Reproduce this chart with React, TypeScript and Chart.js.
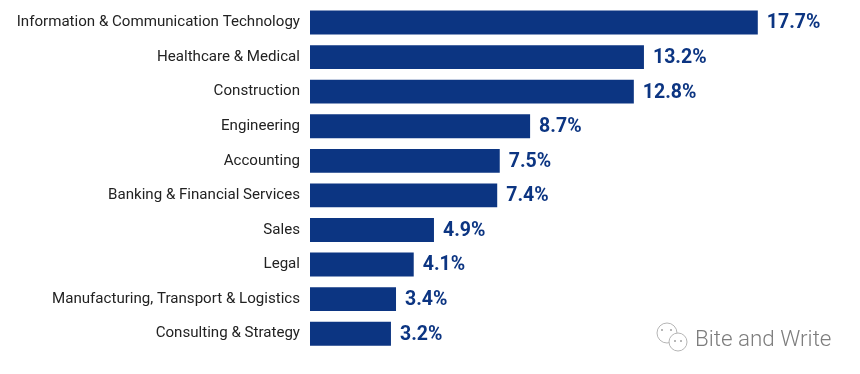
import React, { useEffect, useRef } from "react";
import { Chart, registerables } from "chart.js";

Chart.register(...registerables);

const categories = [
  "Information & Communication Technology",
  "Healthcare & Medical",
  "Construction",
  "Engineering",
  "Accounting",
  "Banking & Financial Services",
  "Sales",
  "Legal",
  "Manufacturing, Transport & Logistics",
  "Consulting & Strategy",
];
const values = [17.7, 13.2, 12.8, 8.7, 7.5, 7.4, 4.9, 4.1, 3.4, 3.2];
const BLUE = "#0c3582";

const valueLabels = {
  id: "valueLabels",
  afterDatasetsDraw(chart: any) {
    const { ctx } = chart;
    const meta = chart.getDatasetMeta(0);
    ctx.save();
    ctx.font = "bold 19.5px Roboto";
    ctx.fillStyle = BLUE;
    ctx.textBaseline = "middle";
    ctx.textAlign = "left";
    meta.data.forEach((bar: any, i: number) => {
      ctx.fillText(values[i].toFixed(1) + "%", bar.x + 9, bar.y + 1);
    });
    ctx.restore();
  },
};

const watermark = {
  id: "watermark",
  afterDraw(chart: any) {
    const { ctx } = chart;
    ctx.save();
    ctx.font = "300 22.4px Roboto";
    ctx.fillStyle = "#7d7d7d";
    ctx.textBaseline = "middle";
    ctx.textAlign = "left";
    ctx.fillText("Bite and Write", 695, 340);
    ctx.strokeStyle = "#b5b5b5";
    ctx.lineWidth = 1;
    ctx.beginPath();
    ctx.arc(667, 333, 10, 0, Math.PI * 2);
    ctx.stroke();
    ctx.fillStyle = "#ffffff";
    ctx.beginPath();
    ctx.arc(678, 342, 9, 0, Math.PI * 2);
    ctx.fill();
    ctx.stroke();
    ctx.fillStyle = "#a0a0a0";
    [[662, 330], [671, 330], [675, 341], [681, 341]].forEach(([x, y]) => {
      ctx.beginPath();
      ctx.arc(x, y, 1, 0, Math.PI * 2);
      ctx.fill();
    });
    ctx.restore();
  },
};

export default function App() {
  const ref = useRef<HTMLCanvasElement>(null);
  useEffect(() => {
    const chart = new Chart(ref.current!, {
      type: "bar",
      data: {
        labels: categories,
        datasets: [
          {
            data: values,
            backgroundColor: BLUE,
            barPercentage: 1,
            categoryPercentage: 0.69,
          },
        ],
      },
      options: {
        indexAxis: "y",
        animation: false,
        responsive: false,
        layout: { padding: { top: 5.2, bottom: 23, left: 0, right: 0 } },
        plugins: { legend: { display: false }, tooltip: { enabled: false } },
        scales: {
          x: { display: false, min: 0, max: 21.74, grid: { display: false } },
          y: {
            grid: { display: false, drawTicks: false },
            border: { display: false },
            afterFit(s: any) {
              s.width = 310;
              s.paddingTop = 0;
              s.paddingBottom = 0;
            },
            ticks: {
              color: "#222222",
              font: { family: "Roboto", size: 15.1 },
              padding: 10,
              autoSkip: false,
            },
          },
        },
      },
      plugins: [valueLabels, watermark],
    });
    return () => chart.destroy();
  }, []);
  return (
    <canvas ref={ref} width={860} height={374} style={{ position: "fixed", left: 0, top: 0, display: "block" }} />
  );
}
